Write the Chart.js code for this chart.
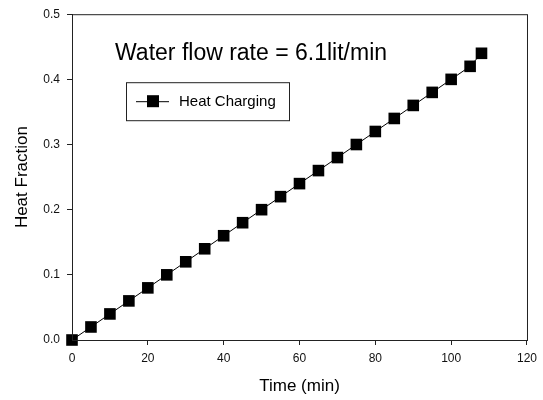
<!DOCTYPE html>
<html>
<head>
<meta charset="utf-8">
<script src="https://cdn.jsdelivr.net/npm/chart.js@4/dist/chart.umd.min.js"></script>
<style>
  html, body { margin: 0; padding: 0; background: #fff; }
  #wrap { width: 543px; height: 400px; position: relative; }
</style>
</head>
<body>
<div id="wrap"><canvas id="chart" width="543" height="400"></canvas></div>
<script>
// data
const timeMin = [0, 5, 10, 15, 20, 25, 30, 35, 40, 45, 50, 55, 60, 65, 70, 75, 80, 85, 90, 95, 100, 105, 108];
const heatFraction = [0.00, 0.02, 0.04, 0.06, 0.08, 0.10, 0.12, 0.14, 0.16, 0.18, 0.20, 0.22, 0.24, 0.26, 0.28, 0.30, 0.32, 0.34, 0.36, 0.38, 0.40, 0.42, 0.44];
const seriesName = 'Heat Charging';
const chartNote = 'Water flow rate = 6.1lit/min';
const xTicks = [0, 20, 40, 60, 80, 100, 120];
const yTicks = [0.0, 0.1, 0.2, 0.3, 0.4, 0.5];

const FONT = '"Liberation Sans", Arial, sans-serif';

//points as {x, y} for the scatter line
const points = timeMin.map((t, i) => ({x: t, y: heatFraction[i]}));

//draws the frame, the note and the legend box inside the plot
const boxPlugin = {
    id: 'boxPlugin',
    afterDraw(chart) {
        const ctx = chart.ctx;
        const a = chart.chartArea;
        ctx.save();
        ctx.strokeStyle = '#222';
        ctx.lineWidth = 1;
        ctx.strokeRect(a.left + 0.5, a.top + 0.5, a.right - a.left, a.bottom - a.top);

        //note
        ctx.fillStyle = '#000';
        ctx.font = '23px ' + FONT;
        ctx.textBaseline = 'middle';
        ctx.textAlign = 'left';
        ctx.fillText(chartNote, a.left + 43, a.top + 39);

        //legend
        const lx = a.left + 54, ly = a.top + 68;
        ctx.strokeStyle = '#222';
        ctx.strokeRect(lx + 0.5, ly + 0.5, 163, 38);
        const cy = ly + 19;
        ctx.strokeStyle = '#000';
        ctx.beginPath();
        ctx.moveTo(lx + 10, cy + 0.5);
        ctx.lineTo(lx + 43, cy + 0.5);
        ctx.stroke();
        ctx.fillStyle = '#000';
        ctx.fillRect(lx + 21, cy - 6, 12, 12);
        ctx.font = '15px ' + FONT;
        ctx.fillText(seriesName, lx + 53, cy + 1);
        ctx.restore();
    }
};

const config = {
    type: 'scatter',
    data: {
        datasets: [{
            label: seriesName,
            data: points,
            showLine: true,
            borderColor: '#000',
            borderWidth: 1,
            backgroundColor: '#000',
            pointStyle: 'rect',
            pointRadius: 8.2,
            pointHoverRadius: 8.2,
            pointBorderWidth: 0,
            clip: false
        }]
    },
    options: {
        responsive: false,
        animation: false,
        layout: { padding: { left: 0, right: 15, top: 14, bottom: 0 } },
        plugins: {
            legend: { display: false },
            tooltip: { enabled: false }
        },
        scales: {
            x: {
                type: 'linear',
                min: 0,
                max: 120,
                afterFit: (scale) => { scale.height = 60; },
                afterBuildTicks: (scale) => { scale.ticks = xTicks.map(v => ({value: v})); },
                ticks: {
                    color: '#111',
                    padding: 6,
                    font: { family: FONT, size: 12 },
                    callback: (v) => String(v)
                },
                grid: { drawOnChartArea: false, drawTicks: true, tickLength: 5, tickColor: '#222' },
                border: { display: true, color: '#222', width: 1 },
                title: {
                    display: true,
                    text: 'Time (min)',
                    color: '#000',
                    font: { family: FONT, size: 17 },
                    padding: { top: 0, bottom: 3 }
                }
            },
            y: {
                type: 'linear',
                min: 0,
                max: 0.5,
                afterFit: (scale) => { scale.width = 72; },
                afterBuildTicks: (scale) => { scale.ticks = yTicks.map(v => ({value: v})); },
                ticks: {
                    color: '#111',
                    padding: 7,
                    font: { family: FONT, size: 12 },
                    callback: (v) => Number(v).toFixed(1)
                },
                grid: { drawOnChartArea: false, drawTicks: true, tickLength: 5, tickColor: '#222' },
                border: { display: true, color: '#222', width: 1 },
                title: {
                    display: true,
                    text: 'Heat Fraction',
                    color: '#000',
                    font: { family: FONT, size: 17 },
                    padding: { top: 12, bottom: 0 }
                }
            }
        }
    },
    plugins: [boxPlugin]
};

const myChart = new Chart(document.getElementById('chart'), config);
</script>
</body>
</html>
